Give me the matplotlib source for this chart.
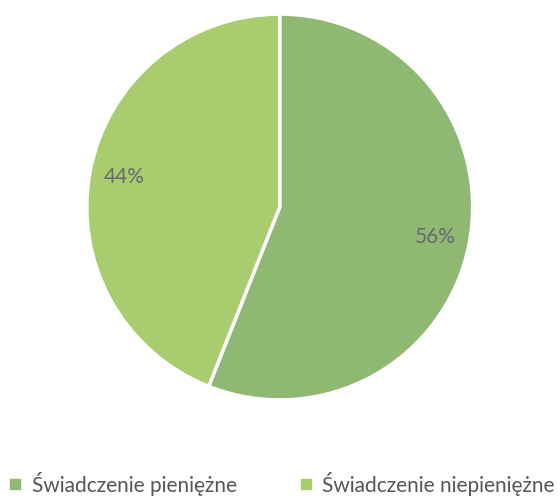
import matplotlib
matplotlib.use("Agg")
import matplotlib.pyplot as plt
from matplotlib.lines import Line2D

labels = ["Świadczenie pieniężne", "Świadczenie niepieniężne"]
values = [56, 44]
colors = ["#8fb872", "#a9cc6e"]

plt.rcParams['font.family'] = ['Lato', 'DejaVu Sans']

fig = plt.figure(figsize=(5.6, 4.97), dpi=100)
ax = fig.add_axes([0.155, 0.195, 0.689, 0.777])
wedges, texts, autotexts = ax.pie(values, colors=colors, startangle=90, counterclock=False,
                                  autopct=lambda p: f"{p:.0f}%", pctdistance=0.82,
                                  wedgeprops=dict(edgecolor="white", linewidth=2.5),
                                  textprops=dict(color="#666a70", fontsize=15))
ax.set_xlim(-1, 1)
ax.set_ylim(-1, 1)
ax.set_aspect("equal")

handles = [Line2D([], [], marker="s", linestyle="none", markersize=7,
                  markerfacecolor=c, markeredgecolor=c) for c in colors]
fig.legend(handles, labels, loc="lower center", bbox_to_anchor=(0.5, -0.035), ncol=2,
           frameon=False, fontsize=15, handletextpad=0.3, columnspacing=2.8,
           labelcolor="#555555", handlelength=1.0)
fig.savefig("out.png", dpi=100)
